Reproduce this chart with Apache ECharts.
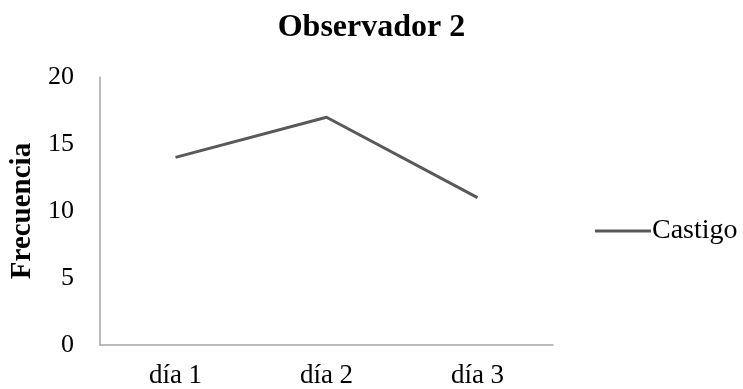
<!DOCTYPE html>
<html>
<head>
<meta charset="utf-8">
<script src="https://cdn.jsdelivr.net/npm/echarts@6/dist/echarts.min.js"></script>
<style>
  html, body { margin: 0; padding: 0; background: #fff; }
  #chart { width: 743px; height: 389px; }
</style>
</head>
<body>
<div id="chart"></div>
<script>
const categories = ['día 1', 'día 2', 'día 3'];
const castigo = [14, 17, 11];
const yTicks = [0, 5, 10, 15, 20];

const serif = '"Liberation Serif", "Times New Roman", serif';
const chart = echarts.init(document.getElementById('chart'), null, { renderer: 'canvas' });

chart.setOption({
  animation: false,
  backgroundColor: '#ffffff',
  title: {
    text: 'Observador 2',
    left: 'center',
    top: 7,
    textStyle: { fontFamily: serif, fontWeight: 'bold', fontSize: 32, color: '#000' }
  },
  legend: {
    orient: 'vertical',
    left: 590,
    top: 212,
    itemWidth: 56,
    itemHeight: 3,
    itemGap: 2,
    icon: 'rect',
    data: ['Castigo'],
    textStyle: { fontFamily: serif, fontSize: 28, color: '#000', padding: [0, 0, 0, -4] }
  },
  grid: { left: 100, right: 190, top: 77, bottom: 44, containLabel: false, outerBoundsMode: 'none' },
  xAxis: {
    type: 'category',
    data: categories,
    boundaryGap: true,
    axisLine: { show: true, lineStyle: { color: '#a6a6a6', width: 1.5 } },
    axisTick: { show: false },
    axisLabel: { fontFamily: serif, fontSize: 27, color: '#000', margin: 17 },
    splitLine: { show: false }
  },
  yAxis: {
    type: 'value',
    min: yTicks[0],
    max: yTicks[yTicks.length - 1],
    interval: yTicks[1] - yTicks[0],
    name: 'Frecuencia',
    nameLocation: 'middle',
    nameGap: 62,
    nameRotate: 90,
    nameTextStyle: { fontFamily: serif, fontWeight: 'bold', fontSize: 29, color: '#000' },
    axisLine: { show: true, lineStyle: { color: '#a6a6a6', width: 1.5 } },
    axisTick: { show: false },
    axisLabel: { fontFamily: serif, fontSize: 26, color: '#000', margin: 26 },
    splitLine: { show: false }
  },
  series: [{
    name: 'Castigo',
    type: 'line',
    data: castigo,
    showSymbol: false,
    symbol: 'none',
    lineStyle: { color: '#595959', width: 3 },
    itemStyle: { color: '#595959' }
  }]
});
</script>
</body>
</html>
